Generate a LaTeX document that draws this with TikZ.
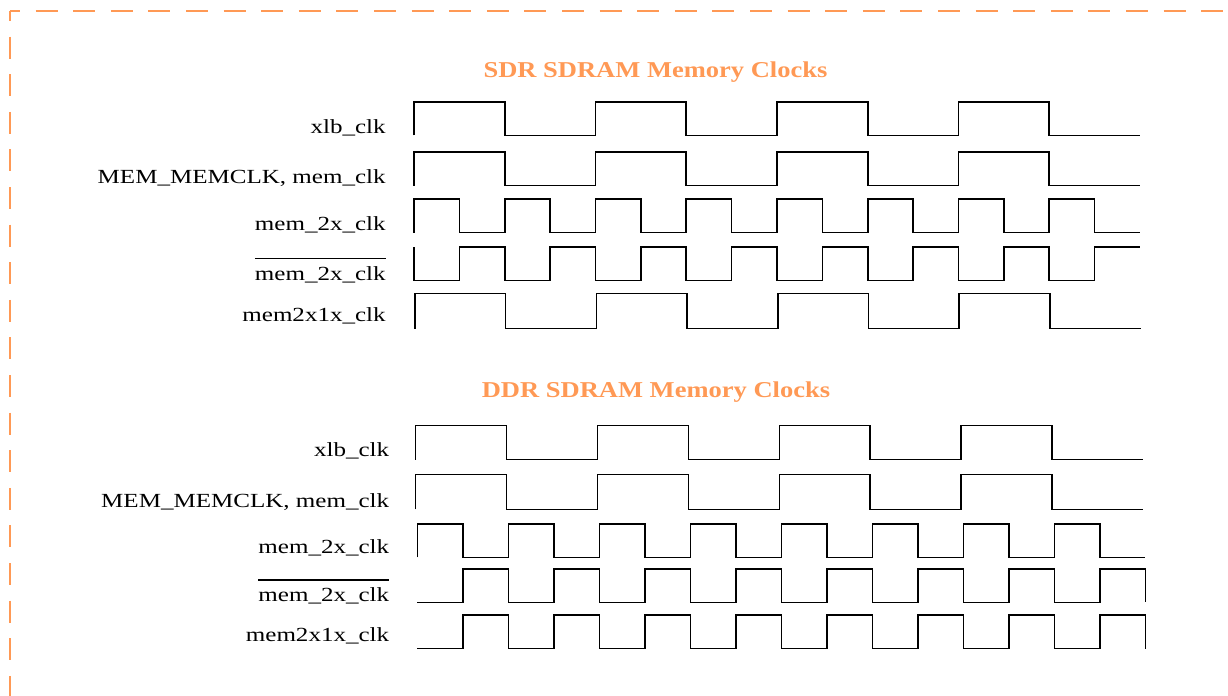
\documentclass[tikz,border=0pt]{standalone}
\usepackage{fontspec}
\setmainfont{Liberation Serif}
\newfontfamily\sigfont[FakeStretch=1.25]{Liberation Serif}
\newfontfamily\headfont[FakeStretch=1.17]{Liberation Serif}
\definecolor{clkorange}{RGB}{255,153,85}
\tikzset{
    wave/.style = {line width=0.9pt, line join=miter},
    sig/.style = {anchor=base east, inner sep=0pt, font=\sigfont\fontsize{11.4}{13}\selectfont},
    heading/.style = {anchor=base, inner sep=0pt, text=clkorange, font=\headfont\bfseries\fontsize{12.9}{15}\selectfont},
    border/.style = {draw=clkorange, line width=1.2pt, dash pattern=on 12.5pt off 8.9pt, dash phase=6.8pt}
}
% clock trace: start x, half period, last half, high y, low y, phase, start y, tail
\newcommand{\clockwave}[8]{%
  \draw[wave] (#1,#7) \foreach \k [evaluate=\k as \xa using {#1+\k*#2},
      evaluate=\k as \xb using {#1+(\k+1)*#2},
      evaluate=\k as \yy using {ifthenelse(mod(\k+#6,2)==0,#4,#5)}] in {0,...,#3}
      { -- (\xa,\yy) -- (\xb,\yy) } #8;}
% inverted signal name
\newcommand{\ovl}[1]{\vbox{\hrule height 0.8pt\kern 4pt\hbox{#1}}}

\begin{document}
\begin{tikzpicture}[x=0.02cm, y=-0.02cm]
\useasboundingbox (0,0) rectangle (1228,696);

% dashed frame
\coordinate (corner) at (10,11);
\draw[border] (corner) -- (1228,11);
\draw[border] (corner) -- (10,696);

% SDR section
\node[heading] (sdr title) at (655.5,77.7) {SDR SDRAM Memory Clocks};
\node[sig] (sdr xlb) at (386,133.3) {xlb\_clk};
\node[sig] (sdr memclk) at (386,184) {MEM\_MEMCLK, mem\_clk};
\node[sig] (sdr 2x) at (386,231) {mem\_2x\_clk};
\node[sig] (sdr 2xn) at (386,280) {\ovl{mem\_2x\_clk}};
\node[sig] (sdr 2x1x) at (386,321.7) {mem2x1x\_clk};

\clockwave{414}{90.75}{7}{102}{135.5}{0}{135.5}{}
\clockwave{414}{90.75}{7}{152}{185.7}{0}{185.7}{}
\clockwave{414}{45.375}{15}{199}{232.7}{0}{232.7}{}
\clockwave{414}{45.375}{15}{247}{280.7}{1}{247}{}
\clockwave{415}{90.7}{7}{293.7}{328.7}{0}{328.7}{}

% DDR section
\node[heading] (ddr title) at (656,397.7) {DDR SDRAM Memory Clocks};
\node[sig] (ddr xlb) at (389.5,456.7) {xlb\_clk};
\node[sig] (ddr memclk) at (389.5,507) {MEM\_MEMCLK, mem\_clk};
\node[sig] (ddr 2x) at (389.5,553) {mem\_2x\_clk};
\node[sig] (ddr 2xn) at (389.5,601.7) {\ovl{mem\_2x\_clk}};
\node[sig] (ddr 2x1x) at (389.5,641.7) {mem2x1x\_clk};

\clockwave{415.7}{90.9}{7}{425.7}{459.7}{0}{459.7}{}
\clockwave{415.7}{90.9}{7}{474.7}{509.3}{0}{509.3}{}
\clockwave{417.3}{45.5}{15}{524}{557.3}{0}{557.3}{}
\clockwave{417.3}{45.5}{15}{569}{602.3}{1}{602.3}{-- ++(0,33.3)}
\clockwave{417.3}{45.5}{15}{615}{648.7}{1}{648.7}{-- ++(0,33.7)}

\end{tikzpicture}
\end{document}
